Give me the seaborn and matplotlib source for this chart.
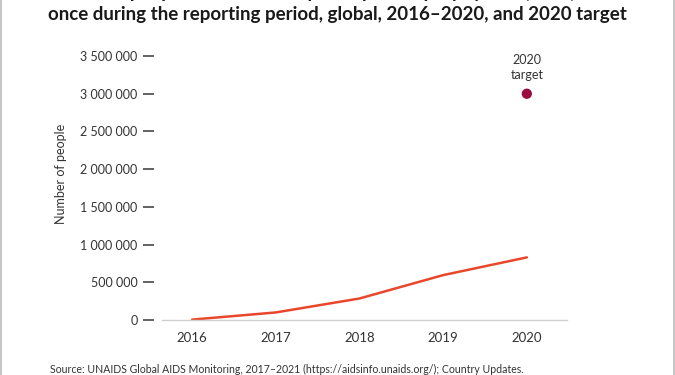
import matplotlib
matplotlib.use("Agg")
import matplotlib.pyplot as plt
import matplotlib.lines as mlines
from matplotlib.ticker import FuncFormatter
import pandas as pd
import seaborn as sns

# Data
years = [2016, 2017, 2018, 2019, 2020]
people = [5000, 100000, 285000, 595000, 830000]
target_year = [2020]
target_value = [3000000]
y_ticks = [0, 500000, 1000000, 1500000, 2000000, 2500000, 3000000, 3500000]

title_line1 = "Number of people who received pre-exposure prophylaxis (PrEP) at least"
title_line2 = "once during the reporting period, global, 2016–2020, and 2020 target"
source = "Source: UNAIDS Global AIDS Monitoring, 2017–2021 (https://aidsinfo.unaids.org/); Country Updates."

sns.set_theme(style="white")
plt.rcParams['font.family'] = ['Lato', 'DejaVu Sans']

df = pd.DataFrame({"year": years, "people": people})
tgt = pd.DataFrame({"year": target_year, "people": target_value})

fig = plt.figure(figsize=(6.75, 3.75), dpi=100)
ax = fig.add_axes([0.24, 0.1467, 0.60, 0.724])

sns.lineplot(data=df, x="year", y="people", color="#E8472B", linewidth=1.8, ax=ax)
sns.scatterplot(data=tgt, x="year", y="people", color="#9B0B3F", s=55,
                edgecolor="none", ax=ax, zorder=5)
ax.annotate("2020\ntarget", xy=(target_year[0], target_value[0]), xytext=(0, 9),
            textcoords="offset points", ha="center", va="bottom",
            fontsize=9, color="#333333", linespacing=1.3)

ax.set_xlim(2015.64, 2020.48)
ax.set_ylim(0, 3600000)
ax.set_xticks(years)
ax.set_yticks(y_ticks)
ax.yaxis.set_major_formatter(FuncFormatter(lambda v, p: f"{int(v):,}".replace(",", " ")))

for s in ["top", "right"]:
    ax.spines[s].set_visible(False)
ax.spines["left"].set_position(("outward", 6))
ax.spines["left"].set_visible(False)
ax.spines["bottom"].set_color("#d0d0d0")
ax.spines["bottom"].set_linewidth(1.0)

ax.tick_params(axis="y", direction="out", length=8, width=1.3, color="#555555",
               labelsize=9, labelcolor="#333333", pad=3.5, left=True)
ax.tick_params(axis="x", length=0, labelsize=9.5, labelcolor="#333333", pad=8.5)

ax.set_xlabel("")
ax.set_ylabel("Number of people", fontsize=9, color="#333333")
ax.yaxis.set_label_coords(-0.235, 0.54)

# first title line is cut by the top edge in the original
fig.text(0.5, 1.005, title_line1, ha="center", va="baseline",
         fontsize=13.5, fontweight="bold", color="#1a1a1a")
fig.text(0.5, 0.947, title_line2, ha="center", va="baseline",
         fontsize=13.5, fontweight="bold", color="#1a1a1a")
fig.text(0.074, 0.006, source, ha="left", va="baseline", fontsize=7.6, color="#333333")

fig.add_artist(mlines.Line2D([0.002, 0.002], [0, 1], color="#bbbbbb", linewidth=1.2))
fig.add_artist(mlines.Line2D([0.998, 0.998], [0, 1], color="#bbbbbb", linewidth=1.2))

fig.savefig("out.png", dpi=100)
